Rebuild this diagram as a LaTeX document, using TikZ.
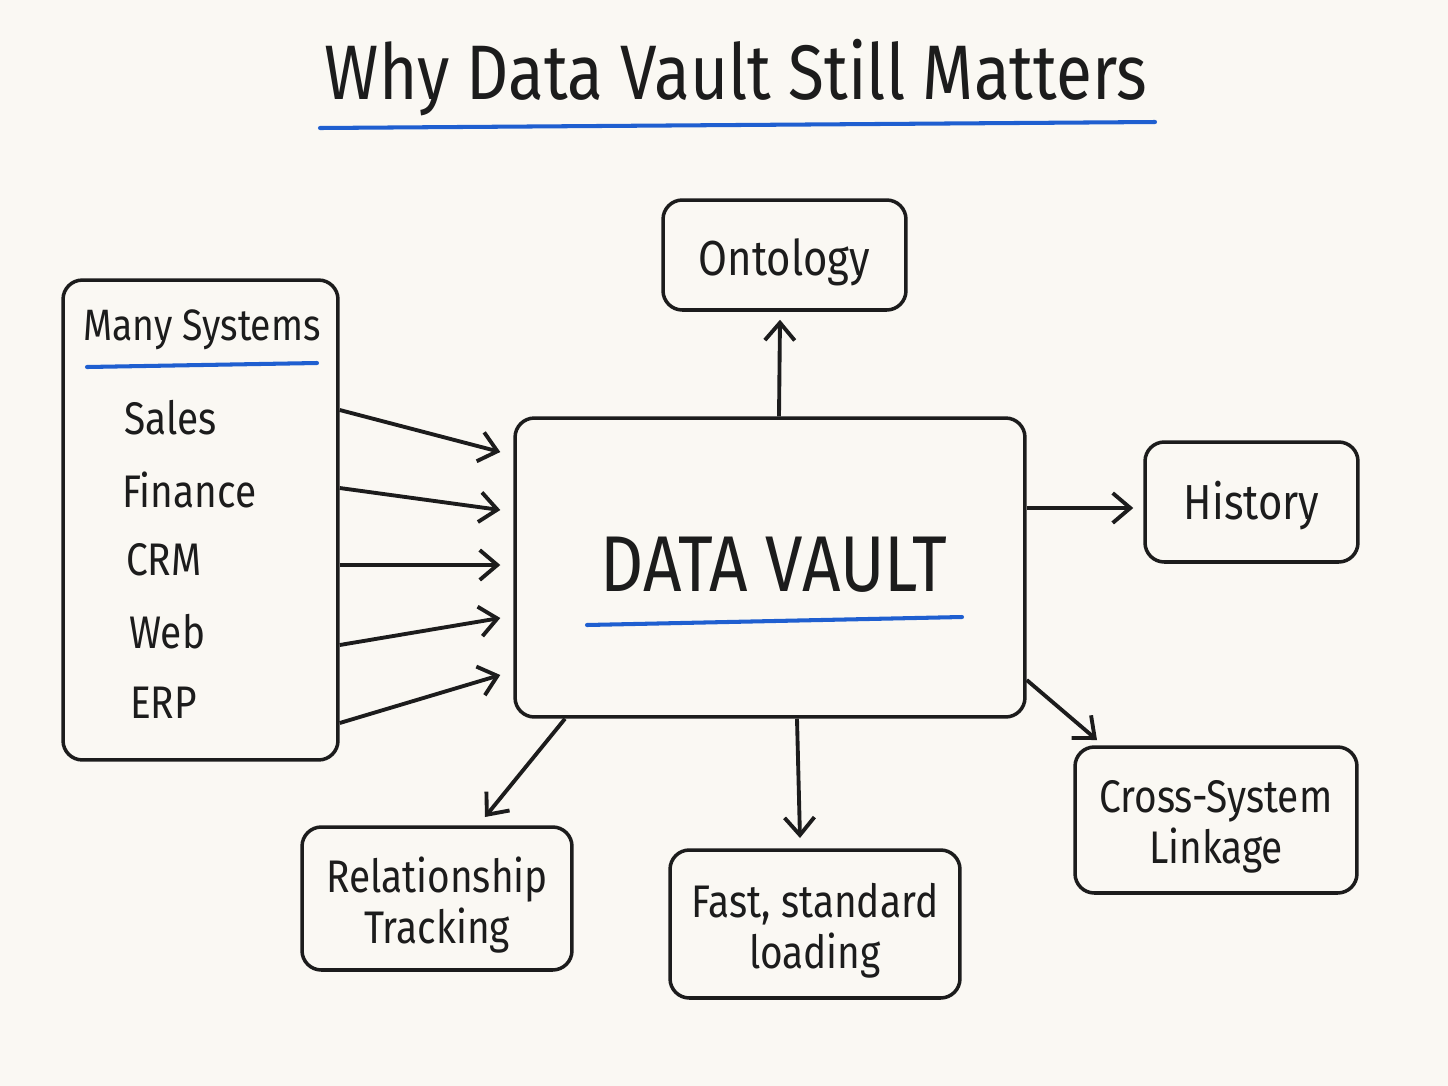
\documentclass[tikz,border=0pt]{standalone}
\usepackage{fontspec}
\setmainfont{Fira Sans}[FakeStretch=0.85]
\usetikzlibrary{arrows.meta}

\definecolor{paper}{HTML}{FAF8F3}
\definecolor{ink}{HTML}{1C1C1C}
\definecolor{pen}{HTML}{1F5FD0}

\tikzset{
  box/.style={draw=ink, line width=2pt, rounded corners=11pt, align=center, text=ink},
  arr/.style={draw=ink, line width=2.2pt, -{Straight Barb[length=10pt,width=17pt]}},
  underline/.style={draw=pen, line width=2.3pt, line cap=round},
  item/.style={anchor=west, text=ink, font=\fontsize{26}{30}\selectfont},
  lbl/.style={align=center, text=ink, font=\fontsize{26}{29}\selectfont, yshift=-0.14cm}
}

\begin{document}
\begin{tikzpicture}[x=0.02cm, y=-0.02cm]
\fill[paper] (0,0) rectangle (1448,1086);

% title
\node[text=ink, font=\fontsize{44}{48}\selectfont] (title) at (736,78) {Why Data Vault Still Matters};
\draw[underline] (320,128) -- (1155,122);

% sources
\node[box, minimum width=5.5cm, minimum height=9.6cm] (sys) at (200.5,520) {};
\node[text=ink, font=\fontsize{25}{28}\selectfont] (systitle) at (202,330) {Many Systems};
\draw[underline] (87,367) -- (317,363);
\node[item] (sales) at (118,418) {Sales};
\node[item] (finance) at (116,490) {Finance};
\node[item] (crm) at (120,560) {CRM};
\node[item] (web) at (123,632) {Web};
\node[item] (erp) at (124,703) {ERP};

% hub
\node[box, minimum width=10.2cm, minimum height=5.98cm] (vault) at (770,567.5) {};
\node[text=ink, font=\fontsize{45}{50}\selectfont] (vaulttext) at (774,565) {DATA VAULT};
\draw[underline] (587,625) -- (962,617);

% outcomes
\node[box, minimum width=4.86cm, minimum height=2.2cm,
  label={[lbl, font=\fontsize{28}{31}\selectfont]center:Ontology}] (ontology) at (784.5,255) {};
\node[box, minimum width=4.26cm, minimum height=2.4cm,
  label={[lbl, font=\fontsize{28}{31}\selectfont, yshift=0.06cm]center:History}] (history) at (1251.5,502) {};
\node[box, minimum width=5.64cm, minimum height=2.92cm,
  label={[lbl]center:Cross-System\\Linkage}] (cross) at (1216,820) {};
\node[box, minimum width=5.4cm, minimum height=2.86cm,
  label={[lbl]center:Relationship\\Tracking}] (rel) at (437,898.5) {};
\node[box, minimum width=5.8cm, minimum height=2.96cm,
  label={[lbl]center:Fast, standard\\loading}] (fast) at (815,924) {};

\coordinate (relin) at (485,817);
\coordinate (fastin) at (800,838);
\coordinate (crossin) at (1097,740);

% inputs
\foreach \s/\e in {410/452, 488/510, 565/565, 645/618, 723/675}
  \draw[arr] (sys.east |- 0,\s) -- ([xshift=-0.26cm]vault.west |- 0,\e);

% outputs
\draw[arr] (vault.north -| 779,0) -- ([yshift=-0.16cm]ontology.south -| 780,0);
\draw[arr] (vault.east |- 0,508) -- ([xshift=-0.2cm]history.west |- 0,508);
\draw[arr] (vault.east |- 0,680) -- (crossin);
\draw[arr] (vault.south -| 797,0) -- (fastin);
\draw[arr] (vault.south -| 565,0) -- (relin);
\end{tikzpicture}
\end{document}
